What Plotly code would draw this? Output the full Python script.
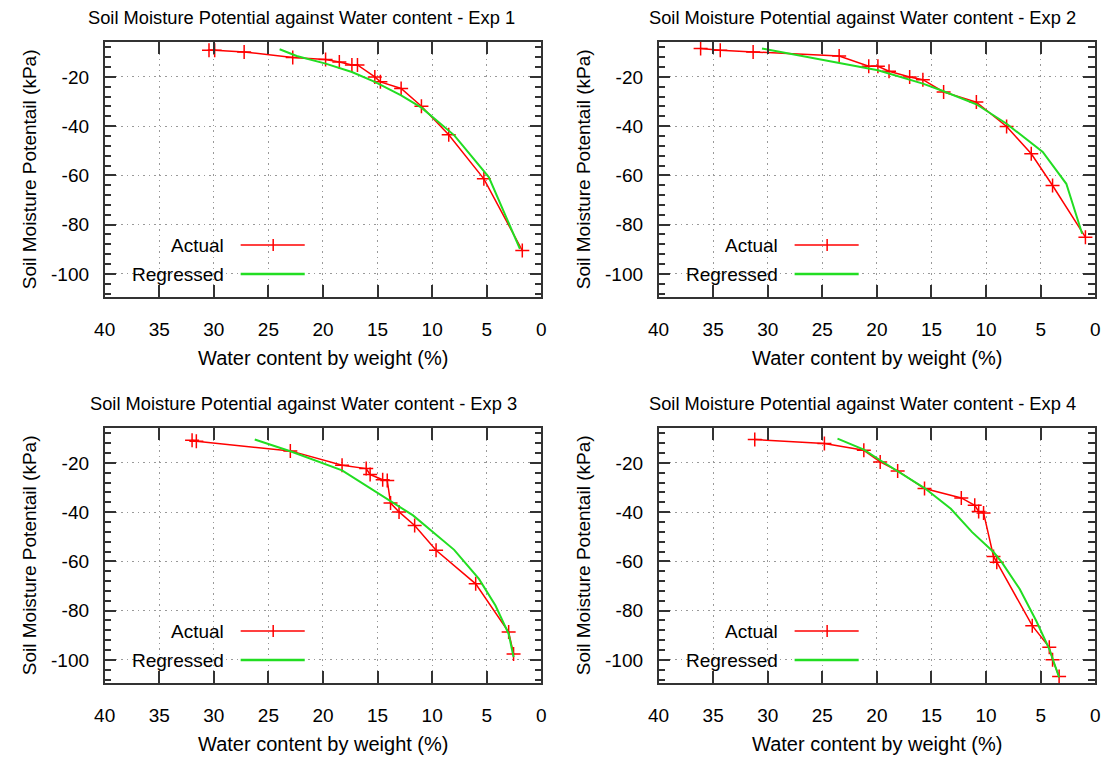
import plotly.graph_objects as go

W, H = 1117, 760

# ---------------- data ----------------
x_ticks = [40, 35, 30, 25, 20, 15, 10, 5, 0]
y_ticks = [-20, -40, -60, -80, -100]
y_tick_labels = ["-20", "-40", "-60", "-80", "-100"]

exp1_actual_x = [30.44, 29.92, 27.22, 22.77, 19.76, 18.50, 17.35, 16.84, 15.25, 14.74, 12.84, 10.98, 8.48, 5.26, 1.74]
exp1_actual_y = [-9.15, -9.15, -9.83, -12.14, -12.95, -13.9, -15.1, -15.1, -20.0, -22.0, -24.7, -31.9, -43.5, -61.4, -90.5]
exp1_reg_x = [23.97, 22.41, 19.76, 17.35, 15.25, 12.84, 10.98, 7.97, 4.81, 1.96]
exp1_reg_y = [-8.75, -11.46, -14.58, -17.97, -22.03, -27.46, -32.47, -43.73, -60.68, -89.83]

exp2_actual_x = [36.15, 34.35, 31.34, 23.46, 20.75, 19.91, 18.89, 17.0, 15.79, 13.89, 10.89, 8.12, 5.86, 3.91, 0.90]
exp2_actual_y = [-8.47, -9.15, -9.83, -11.46, -15.66, -15.66, -17.7, -20.0, -21.1, -26.1, -30.2, -40.1, -51.2, -64.1, -85.1]
exp2_reg_x = [30.53, 25.56, 23.46, 19.91, 15.79, 13.89, 10.89, 8.12, 4.81, 2.65, 1.20]
exp2_reg_y = [-8.47, -12.5, -14.2, -17.3, -22.7, -25.8, -31.1, -39.0, -50.5, -63.4, -83.7]

exp3_actual_x = [31.99, 31.60, 22.99, 18.25, 16.04, 15.68, 14.53, 14.11, 13.81, 13.03, 11.60, 9.64, 6.01, 2.99, 2.54]
exp3_actual_y = [-10.78, -11.2, -15.1, -20.95, -22.3, -24.7, -26.8, -27.1, -36.3, -39.9, -45.4, -55.5, -69.1, -88.7, -97.6]
exp3_reg_x = [26.25, 22.99, 18.25, 13.87, 11.75, 7.98, 5.71, 4.20, 2.99, 2.54]
exp3_reg_y = [-10.5, -15.25, -23.0, -35.2, -41.3, -55.3, -67.1, -77.9, -89.4, -98.9]

exp4_actual_x = [31.19, 24.81, 21.20, 19.70, 18.10, 15.64, 12.27, 11.04, 10.68, 10.23, 9.32, 9.02, 5.77, 4.21, 3.91, 3.31]
exp4_actual_y = [-10.5, -12.1, -14.85, -19.6, -23.25, -30.4, -34.2, -37.2, -39.7, -40.3, -58.0, -60.3, -86.1, -94.9, -100.0, -106.8]
exp4_reg_x = [23.61, 21.20, 19.70, 18.10, 15.64, 13.23, 11.28, 9.32, 8.57, 6.92, 5.41, 4.21, 3.31]
exp4_reg_y = [-10.1, -14.6, -18.9, -23.25, -30.2, -38.6, -48.1, -56.2, -60.3, -71.2, -84.1, -95.6, -107.1]

titles = [
    "Soil Moisture Potential against Water content - Exp 1",
    "Soil Moisture Potential against Water content - Exp 2",
    "Soil Moisture Potential against Water content - Exp 3",
    "Soil Moisture Potential against Water content - Exp 4",
]
x_title = "Water content by weight (%)"
y_title = "Soil Moisture Potentail (kPa)"
legend_names = ["Actual", "Regressed"]

series = [
    (exp1_actual_x, exp1_actual_y, exp1_reg_x, exp1_reg_y),
    (exp2_actual_x, exp2_actual_y, exp2_reg_x, exp2_reg_y),
    (exp3_actual_x, exp3_actual_y, exp3_reg_x, exp3_reg_y),
    (exp4_actual_x, exp4_actual_y, exp4_reg_x, exp4_reg_y),
]

# ---------------- layout geometry (pixels) ----------------
boxes = [(95, 42, 538, 297), (657, 42, 1100, 297), (95, 428, 538, 683), (657, 428, 1100, 683)]
title_pos = [(295, 18), (864, 18), (297, 403), (864, 403)]

FONT = "Liberation Sans, Arial, sans-serif"
TXT = "#000000"
RED = "#ff0000"
GREEN = "#22dd22"
AX = "#333333"


def px(x):
    return x / W


def py(y):
    return 1 - y / H


fig = go.Figure()
annotations = []
shapes = []

for i, (ax_, ay_, rx_, ry_) in enumerate(series):
    n = "" if i == 0 else str(i + 1)
    xa, ya = "x" + n, "y" + n
    fig.add_trace(go.Scatter(
        x=ax_, y=ay_, mode="lines+markers", xaxis=xa, yaxis=ya,
        line=dict(color=RED, width=1.5),
        marker=dict(symbol="cross-thin", size=10, line=dict(color=RED, width=1.5)),
        showlegend=False, name=legend_names[0]))
    fig.add_trace(go.Scatter(
        x=rx_, y=ry_, mode="lines", xaxis=xa, yaxis=ya,
        line=dict(color=GREEN, width=2),
        showlegend=False, name=legend_names[1]))

    l, t, r, b = boxes[i]
    common = dict(
        showline=True, linecolor=AX, linewidth=1.5, mirror="allticks",
        ticks="inside", ticklen=12, tickwidth=1.5, tickcolor=AX,
        showgrid=True, gridcolor="#999999", griddash="1.5px,4px", gridwidth=1,
        zeroline=False, tickfont=dict(family=FONT, size=19, color=TXT),
    )
    fig.update_layout(**{
        ("xaxis" + n): dict(
            domain=[px(l), px(r)], anchor=ya, range=[40, 0],
            tickmode="array", tickvals=x_ticks, ticktext=[str(v) for v in x_ticks],
            ticklabelstandoff=14, **common),
        ("yaxis" + n): dict(
            domain=[py(b), py(t)], anchor=xa, range=[-109.4, -5.8],
            tickmode="array", tickvals=y_ticks, ticktext=y_tick_labels,
            ticklabelstandoff=10,
            minor=dict(ticks="inside", ticklen=7, tickwidth=1.5, tickcolor=AX,
                       dtick=4, tick0=0, showgrid=False),
            **common),
    })

    # subplot title
    tx, ty = title_pos[i]
    annotations.append(dict(text=titles[i], x=px(tx), y=py(ty), xref="paper", yref="paper",
                            xanchor="center", yanchor="middle", showarrow=False,
                            font=dict(family=FONT, size=18.3, color=TXT)))
    # axis titles
    annotations.append(dict(text=x_title, x=px((l + r) / 2), y=py(b + 61), xref="paper", yref="paper",
                            xanchor="center", yanchor="middle", showarrow=False,
                            font=dict(family=FONT, size=20, color=TXT)))
    annotations.append(dict(text=y_title, x=px(l - 76), y=py((t + b) / 2), xref="paper", yref="paper",
                            xanchor="center", yanchor="middle", showarrow=False, textangle=-90,
                            font=dict(family=FONT, size=19, color=TXT)))
    # in-plot legend (text left of sample)
    for k, (name, col, wid) in enumerate([(legend_names[0], RED, 1.5), (legend_names[1], GREEN, 2.5)]):
        yy = t + 203 + 29 * k
        annotations.append(dict(text=name, x=px(l + 123), y=py(yy), xref="paper", yref="paper",
                                xanchor="right", yanchor="middle", showarrow=False,
                                font=dict(family=FONT, size=19, color=TXT)))
        shapes.append(dict(type="line", xref="paper", yref="paper",
                           x0=px(l + 138), x1=px(l + 203), y0=py(yy), y1=py(yy),
                           line=dict(color=col, width=wid)))
        if k == 0:
            shapes.append(dict(type="line", xref="paper", yref="paper",
                               x0=px(l + 171), x1=px(l + 171), y0=py(yy - 6), y1=py(yy + 6),
                               line=dict(color=col, width=1.5)))

fig.update_layout(
    width=W, height=H, autosize=False,
    margin=dict(l=0, r=0, t=0, b=0),
    paper_bgcolor="white", plot_bgcolor="white",
    annotations=annotations, shapes=shapes,
    showlegend=False,
    font=dict(family=FONT, color=TXT),
)

fig.write_html("out.html", config={"displayModeBar": False},
               post_script="document.body.style.margin='0';")
